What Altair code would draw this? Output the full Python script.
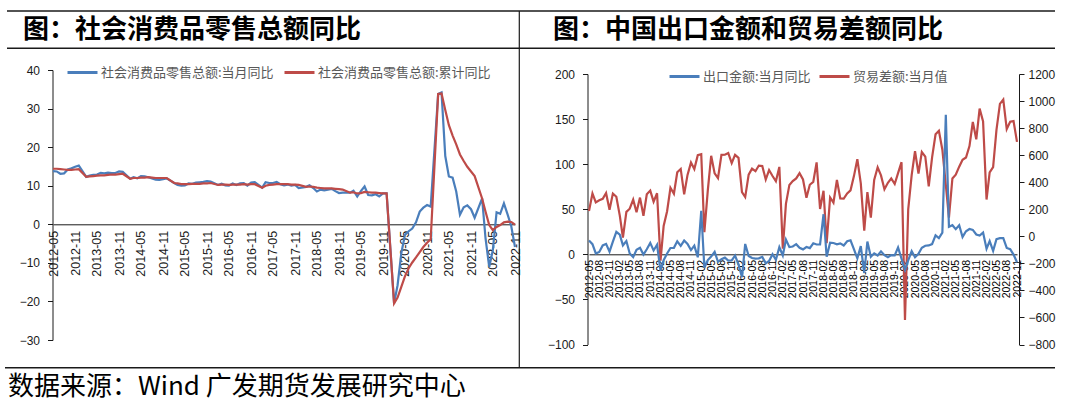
import altair as alt
import pandas as pd

CJK = "Noto Sans CJK SC"
NUM = "Liberation Sans"
BLUE = "#4A7EBB"
RED = "#BE4B48"
INK = "#1a1a1a"

# ---------------- categories / labels ----------------
TITLE_LEFT = "图：社会消费品零售总额同比"
TITLE_RIGHT = "图：中国出口金额和贸易差额同比"
SOURCE = "数据来源：Wind 广发期货发展研究中心"
LEFT_SERIES = ["社会消费品零售总额:当月同比", "社会消费品零售总额:累计同比"]
RIGHT_SERIES = ["出口金额:当月同比", "贸易差额:当月值"]

# ---------------- values ----------------
# retail sales, 2012-05 .. 2022-11, no January rows (Jan-Feb released together)
RETAIL_MONTHLY = [
    13.8, 13.7, 13.1, 13.2, 14.2, 14.5, 14.9, 15.2,
    12.3, 12.6, 12.8, 12.9, 13.3, 13.2, 13.4, 13.3, 13.3, 13.7, 13.6,
    11.8, 12.2, 11.9, 12.5, 12.4, 12.2, 11.9, 11.6, 11.5, 11.7, 11.9,
    10.7, 10.2, 10.0, 10.1, 10.6, 10.5, 10.8, 10.9, 11.0, 11.2, 11.1,
    10.2, 10.5, 10.1, 10.0, 10.6, 10.2, 10.6, 10.7, 10.0, 10.8, 10.9,
    9.5, 10.9, 10.7, 10.7, 11.0, 10.4, 10.1, 10.3, 10.0, 10.2, 9.4,
    9.7, 10.1, 9.4, 8.5, 9.0, 8.8, 9.0, 9.2, 8.6, 8.1, 8.2,
    8.2, 8.7, 7.2, 8.6, 9.8, 7.6, 7.5, 7.8, 7.2, 8.0, 8.0,
    -20.5, -15.8, -7.5, -2.8, -1.8, -1.1, 0.5, 3.3, 4.3, 5.0, 4.6,
    33.8, 34.2, 17.7, 12.4, 12.1, 8.5, 2.5, 4.4, 4.9, 3.9, 1.7,
    6.7, -3.5, -11.1, -6.7, 3.1, 2.7, 5.4, 2.5, -0.5, -5.9,
]
RETAIL_CUMULATIVE = [
    14.4, 14.4, 14.3, 14.2, 14.1, 14.1, 14.2, 14.3,
    12.3, 12.4, 12.5, 12.6, 12.7, 12.7, 12.8, 12.9, 12.9, 13.0, 13.1,
    11.8, 12.0, 12.0, 12.1, 12.1, 12.2, 12.1, 12.0, 12.0, 12.0, 12.0,
    10.7, 10.6, 10.4, 10.4, 10.4, 10.5, 10.5, 10.5, 10.6, 10.6, 10.7,
    10.2, 10.3, 10.3, 10.2, 10.3, 10.3, 10.3, 10.4, 10.3, 10.4, 10.4,
    9.5, 10.0, 10.2, 10.3, 10.4, 10.4, 10.4, 10.4, 10.3, 10.3, 10.2,
    9.7, 9.8, 9.7, 9.5, 9.4, 9.3, 9.3, 9.3, 9.2, 9.1, 9.0,
    8.2, 8.3, 8.0, 8.1, 8.4, 8.3, 8.2, 8.2, 8.1, 8.0, 8.0,
    -20.5, -19.0, -16.2, -13.5, -11.4, -9.9, -8.6, -7.2, -5.9, -4.8, -3.9,
    33.8, 33.9, 29.6, 25.7, 23.0, 20.7, 18.1, 16.4, 14.9, 13.7, 12.5,
    6.7, 3.3, -0.2, -1.5, -0.7, -0.2, 0.5, 0.7, 0.6, -0.1,
]
# exports yoy (%) and trade balance (100m USD), 2012-05 .. 2022-11, every month
EXPORT_YOY = [
    15.3, 11.3, 1.0, 2.7, 9.9, 11.6, 2.9, 14.1,
    25.0, 21.8, 10.0, 14.7, 1.0, -3.1, 5.1, 7.2, -0.3, 5.6, 12.7, 4.3,
    10.6, -18.1, -6.6, 0.9, 7.0, 7.2, 14.5, 9.4, 15.3, 11.6, 4.7, 9.7,
    -3.3, 48.3, -15.0, -6.4, -2.5, 2.8, -8.3, -5.5, -3.7, -6.9, -6.8, -1.4,
    -11.2, -25.4, 11.5, -1.8, -4.1, -4.8, -4.4, -2.8, -10.0, -7.3, 0.1, -6.1,
    7.9, -1.3, 16.4, 8.0, 8.7, 11.3, 7.2, 5.5, 8.1, 6.9, 12.3, 10.9,
    11.1, 44.5, -2.7, 12.9, 12.6, 11.2, 12.2, 9.8, 14.5, 15.6, 5.4, -4.4,
    9.1, -20.7, 14.2, -2.7, 1.1, -1.3, 3.3, -1.0, -3.2, -0.9, -1.1, 7.6,
    None, -17.2, -6.6, 3.5, -3.3, 0.5, 7.2, 9.5, 9.9, 11.4, 21.1, 18.1,
    24.0, 154.9, 30.6, 32.3, 27.9, 32.2, 19.3, 25.6, 28.1, 27.1, 22.0, 20.9,
    24.1, 6.2, 14.7, 3.9, 16.9, 17.9, 18.0, 7.1, 5.7, -0.3, -8.7,
]
TRADE_BALANCE = [
    187, 317, 251, 266, 277, 320, 196, 316,
    292, 153, -9, 181, 204, 271, 178, 286, 152, 311, 338, 256,
    318, -180, 77, 185, 359, 315, 473, 498, 310, 454, 545, 497,
    600, 607, 30, 341, 595, 465, 430, 602, 603, 616, 541, 602,
    580, 326, 290, 456, 500, 481, 523, 520, 420, 490, 446, 407,
    513, -91, 240, 380, 408, 428, 467, 420, 285, 381, 402, 547,
    202, 337, -50, 287, 249, 416, 280, 279, 317, 340, 447, 570,
    391, 41, 326, 138, 417, 510, 450, 348, 396, 428, 387, 467,
    548, -618, 199, 453, 630, 464, 623, 589, 370, 584, 754, 780,
    640, 380, 138, 428, 455, 515, 566, 583, 667, 845, 717, 944,
    850, 272, 473, 511, 787, 979, 1011, 793, 847, 852, 698,
]

# ---------------- tick labels ----------------
LEFT_X_TICKS = [
    "2012-05", "2012-11", "2013-05", "2013-11", "2014-05", "2014-11", "2015-05", "2015-11",
    "2016-05", "2016-11", "2017-05", "2017-11", "2018-05", "2018-11", "2019-05", "2019-11",
    "2020-05", "2020-11", "2021-05", "2021-11", "2022-05", "2022-11",
]
RIGHT_X_TICKS = [
    "2012-05", "2012-08", "2012-11", "2013-02", "2013-05", "2013-08", "2013-11",
    "2014-02", "2014-05", "2014-08", "2014-11", "2015-02", "2015-05", "2015-08", "2015-11",
    "2016-02", "2016-05", "2016-08", "2016-11", "2017-02", "2017-05", "2017-08", "2017-11",
    "2018-02", "2018-05", "2018-08", "2018-11", "2019-02", "2019-05", "2019-08", "2019-11",
    "2020-02", "2020-05", "2020-08", "2020-11", "2021-02", "2021-05", "2021-08", "2021-11",
    "2022-02", "2022-05", "2022-08", "2022-11",
]
LEFT_Y_TICKS = [-30, -20, -10, 0, 10, 20, 30, 40]
RIGHT_Y_TICKS = [-100, -50, 0, 50, 100, 150, 200]
RIGHT_Y2_TICKS = [-800, -600, -400, -200, 0, 200, 400, 600, 800, 1000, 1200]


# ---------------- tables ----------------
def month_range(y0, m0, y1, m1):
    out, y, m = [], y0, m0
    while (y, m) <= (y1, m1):
        out.append((y, m))
        m += 1
        if m > 12:
            y, m = y + 1, 1
    return out


ALL_MONTHS = month_range(2012, 5, 2022, 11)
LEFT_MONTHS = [ym for ym in ALL_MONTHS if ym[1] != 1]


def dstr(ym):
    return f"{ym[0]}/{ym[1]:02d}/01"


def table(months, values, name):
    rows = [{"date": dstr(ym), "value": v, "series": name}
            for ym, v in zip(months, values) if v is not None]
    return pd.DataFrame(rows)


df_lm = table(LEFT_MONTHS, RETAIL_MONTHLY, LEFT_SERIES[0])
df_lc = table(LEFT_MONTHS, RETAIL_CUMULATIVE, LEFT_SERIES[1])
df_ex = table(ALL_MONTHS, EXPORT_YOY, RIGHT_SERIES[0])
df_tb = table(ALL_MONTHS, TRADE_BALANCE, RIGHT_SERIES[1])


def dt(label):
    y, m = label.split("-")
    return alt.DateTime(year=int(y), month=int(m), date=1)


X_DOMAIN = [dt("2012-05"), dt("2022-11")]
W, H = 1080, 403

# ---------------- scales ----------------
LX = alt.Scale(domain=X_DOMAIN, range=[53, 515], nice=False)
LY = alt.Scale(domain=[-30, 40], range=[340, 70], nice=False, zero=False)
RX = alt.Scale(domain=X_DOMAIN, range=[589, 1017], nice=False)
RY = alt.Scale(domain=[-100, 200], range=[344.5, 74], nice=False, zero=False)
RY2 = alt.Scale(domain=[-800, 1200], range=[344.5, 74], nice=False, zero=False)

# ---------------- axes ----------------
left_x_axis = alt.Axis(
    orient="bottom", offset=224.3 - H, values=[dt(t) for t in LEFT_X_TICKS], format="%Y-%m",
    labelAngle=270, labelFontSize=12.5, labelPadding=6, ticks=False, labelFlush=False,
    labelOverlap=False, domainColor=INK, labelColor=INK, labelFont=NUM,
)
left_y_axis = alt.Axis(
    orient="left", offset=-52.5, values=LEFT_Y_TICKS, format="d", tickSize=5, labelPadding=8,
    labelFontSize=12, domainColor=INK, tickColor=INK, labelColor=INK, labelFont=NUM,
    grid=False,
)
right_x_axis = alt.Axis(
    orient="bottom", offset=254.3 - H, values=[dt(t) for t in RIGHT_X_TICKS], format="%Y-%m",
    labelAngle=270, labelFontSize=10.5, labelPadding=5, ticks=False, labelFlush=False,
    labelOverlap=False, domainColor=INK, labelColor="#000000", labelFont=NUM,
)
right_y_axis = alt.Axis(
    orient="left", offset=-587.5, values=RIGHT_Y_TICKS, format="d", tickSize=5, labelPadding=8,
    labelFontSize=12, domainColor=INK, tickColor=INK, labelColor=INK, labelFont=NUM,
    grid=False,
)
right_y2_axis = alt.Axis(
    orient="right", offset=1019 - W, values=RIGHT_Y2_TICKS, format="d", tickSize=5, labelPadding=4,
    labelFontSize=12, domainColor=INK, tickColor=INK, labelColor=INK, labelFont=NUM,
    grid=False,
)


def legend(x, y):
    return alt.Legend(
        title=None, orient="none", legendX=x, legendY=y, symbolType="stroke",
        symbolSize=900, symbolStrokeWidth=3, labelFontSize=13, labelFont=CJK,
        labelColor="#595959", labelOffset=2, padding=0, labelLimit=400,
    )


def series_line(df, name, color, xs, ys, xaxis, yaxis, leg):
    x_kw = {"scale": xs, "title": None}
    y_kw = {"scale": ys, "title": None}
    x_kw["axis"] = xaxis
    y_kw["axis"] = yaxis
    return alt.Chart(df).mark_line(strokeWidth=2.2).encode(
        x=alt.X("date:T", **x_kw),
        y=alt.Y("value:Q", **y_kw),
        color=alt.Color("series:N", scale=alt.Scale(domain=[name], range=[color]), legend=leg),
    )


left_blue = series_line(df_lm, LEFT_SERIES[0], BLUE, LX, LY, left_x_axis, left_y_axis, legend(66, 56))
left_red = series_line(df_lc, LEFT_SERIES[1], RED, LX, LY, None, None, legend(283, 56))
right_red = series_line(df_tb, RIGHT_SERIES[1], RED, RX, RY2, None, right_y2_axis, legend(818, 60))
right_blue = series_line(df_ex, RIGHT_SERIES[0], BLUE, RX, RY, right_x_axis, right_y_axis, legend(668, 60))

# ---------------- decorations ----------------
one = pd.DataFrame({"k": [0]})


def hrule(x1, x2, y, w):
    return alt.Chart(one).mark_rule(color=INK, strokeWidth=w).encode(
        x=alt.value(x1), x2=alt.value(x2), y=alt.value(y))


def vrule(x, y1, y2, w):
    return alt.Chart(one).mark_rule(color=INK, strokeWidth=w).encode(
        x=alt.value(x), y=alt.value(y1), y2=alt.value(y2))


def label(x, y, text, size, weight):
    return alt.Chart(one).mark_text(
        align="left", baseline="middle", font=CJK, fontSize=size, fontWeight=weight, color="#000000"
    ).encode(x=alt.value(x), y=alt.value(y), text=alt.value(text))


frame = [
    hrule(7, 1055, 11, 1.6),
    hrule(7, 1055, 48.3, 1.4),
    hrule(5, 1055, 367.7, 1.4),
    vrule(519.3, 11, 368, 1.2),
]
texts = [
    label(23, 30, TITLE_LEFT, 26, "bold"),
    label(553, 30, TITLE_RIGHT, 26, "bold"),
    label(8, 387, SOURCE, 26, "normal"),
]

chart = alt.layer(
    *frame, *texts, left_blue, left_red, right_red, right_blue
).resolve_scale(
    x="independent", y="independent", color="independent"
).resolve_axis(
    x="independent", y="independent"
).resolve_legend(
    color="independent"
).properties(
    width=W, height=H, padding=0, autosize=alt.AutoSizeParams(type="none")
).configure_view(
    strokeWidth=0
).configure_axis(
    grid=False
)

chart.save("out.html", embed_options={"renderer": "svg", "actions": False})
